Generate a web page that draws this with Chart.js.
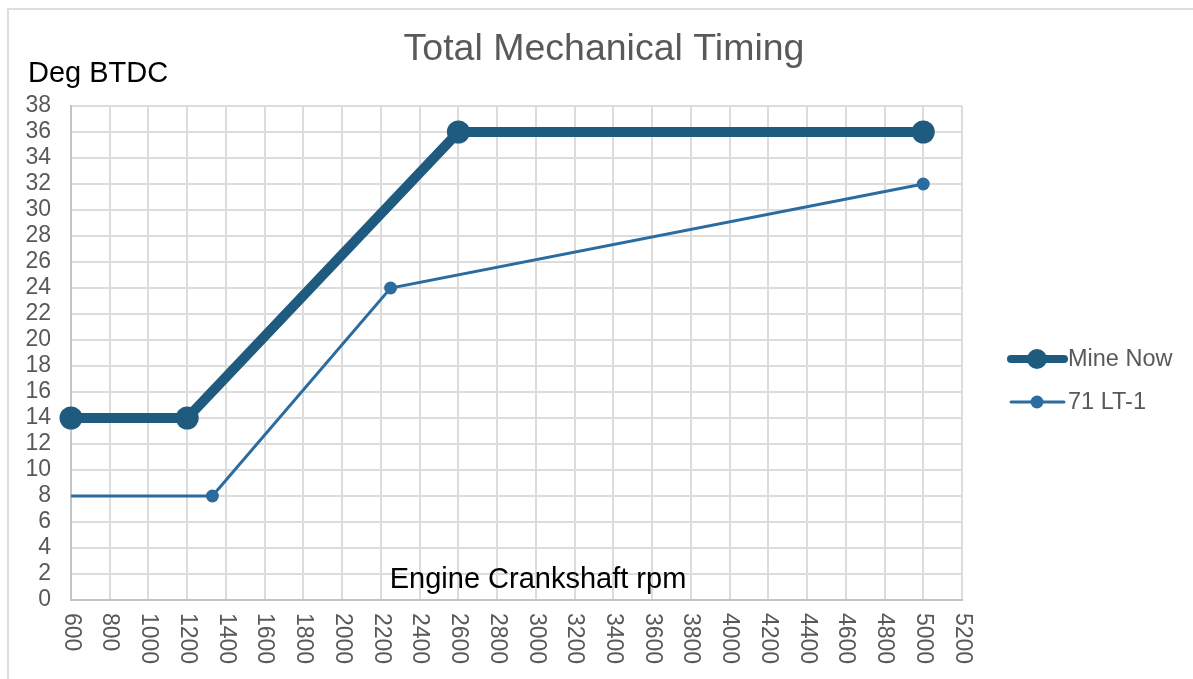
<!DOCTYPE html>
<html>
<head>
<meta charset="utf-8">
<title>Total Mechanical Timing</title>
<script src="https://cdn.jsdelivr.net/npm/chart.js@4.4.1/dist/chart.umd.min.js"></script>
<style>
    html, body {
        margin: 0;
        padding: 0;
        background: #fff;
        overflow: hidden;
    }
    .frame {
        position: absolute;
        left: 7px;
        top: 8px;
        width: 1300px;
        height: 800px;
        border-left: 2px solid #dedede;
        border-top: 2px solid #dedede;
    }
    .wrap {
        position: absolute;
        left: 0;
        top: 0;
        width: 1193px;
        height: 679px;
    }
</style>
</head>
<body>
<div class="frame"></div>
<div class="wrap">
    <canvas id="timingChart" width="1193" height="679"></canvas>
</div>
<script>
const rpmTicks = { min: 600, max: 5200, step: 200 };
const degTicks = { min: 0, max: 38, step: 2 };

const mineNowRpm = [600, 1200, 2600, 5000];
const mineNowDeg = [14, 14, 36, 36];

const lt1Rpm = [500, 1330, 2250, 5000];
const lt1Deg = [8, 8, 24, 32];

const seriesNames = ['Mine Now', '71 LT-1'];

const FONT = '"Liberation Sans", Arial, Helvetica, sans-serif';
const GREY_TEXT = '#595959';


function toPoints(xs, ys) {
    return xs.map((x, i) => ({ x: x, y: ys[i] }));
}

// text, rotated x labels and legend drawn by hand
const decorations = {
    id: 'decorations',
    afterDraw(chart) {
        const ctx = chart.ctx;
        const x = chart.scales.x;
        const area = chart.chartArea;

        ctx.save();

        ctx.fillStyle = GREY_TEXT;
        ctx.font = '37.5px ' + FONT;
        ctx.textAlign = 'center';
        ctx.textBaseline = 'alphabetic';
        ctx.fillText('Total Mechanical Timing', 604, 60);

        ctx.fillStyle = '#000';
        ctx.font = '29px ' + FONT;
        ctx.textAlign = 'left';
        ctx.fillText('Deg BTDC', 28, 82);

        ctx.textAlign = 'center';
        ctx.fillText('Engine Crankshaft rpm', 538, 588);

        // x tick labels, reading top to bottom
        ctx.fillStyle = GREY_TEXT;
        ctx.font = '23px ' + FONT;
        x.ticks.forEach(tick => {
            const px = x.getPixelForValue(tick.value);
            ctx.save();
            ctx.translate(px, area.bottom + 13);
            ctx.rotate(Math.PI / 2);
            ctx.textAlign = 'left';
            ctx.textBaseline = 'middle';
            ctx.fillText(String(tick.value), 0, 0);
            ctx.restore();
        });

        // legend
        const rows = [359, 402];
        chart.data.datasets.forEach((ds, i) => {
            const y = rows[i];
            ctx.strokeStyle = ds.borderColor;
            ctx.lineWidth = i === 0 ? 8 : 3;
            ctx.lineCap = 'round';
            ctx.beginPath();
            ctx.moveTo(1011, y);
            ctx.lineTo(1064, y);
            ctx.stroke();

            ctx.fillStyle = ds.pointBackgroundColor;
            ctx.beginPath();
            ctx.arc(1037, y, i === 0 ? 10 : 6.5, 0, Math.PI * 2);
            ctx.fill();

            ctx.fillStyle = GREY_TEXT;
            ctx.font = '23.5px ' + FONT;
            ctx.textAlign = 'left';
            ctx.textBaseline = 'middle';
            ctx.fillText(ds.label, 1068, y + 1);
        });

        ctx.restore();
    }
};

new Chart(document.getElementById('timingChart'), {
    type: 'line',
    data: {
        datasets: [
            {
                label: seriesNames[0],
                data: toPoints(mineNowRpm, mineNowDeg),
                borderColor: '#1f5a7f',
                backgroundColor: '#1f5a7f',
                pointBackgroundColor: '#1f5a7f',
                pointBorderWidth: 0,
                borderWidth: 10,
                pointRadius: 11.5,
                tension: 0,
                fill: false,
                clip: false,
            },
            {
                label: seriesNames[1],
                data: toPoints(lt1Rpm, lt1Deg),
                borderColor: '#2b6ca0',
                backgroundColor: '#2b6ca0',
                pointBackgroundColor: '#2b6ca0',
                pointBorderWidth: 0,
                borderWidth: 3,
                pointRadius: 6.5,
                tension: 0,
                fill: false,
            }
        ]
    },
    options: {
        responsive: false,
        animation: false,
        events: [],
        layout: {
            padding: { top: 106, right: 231, bottom: 0, left: 0 }
        },
        plugins: {
            legend: { display: false },
            title: { display: false },
            tooltip: { enabled: false }
        },
        scales: {
            x: {
                type: 'linear',
                min: rpmTicks.min,
                max: rpmTicks.max,
                afterFit(scale) {
                    scale.height = 79;
                },
                ticks: {
                    display: false,
                    stepSize: rpmTicks.step,
                },
                grid: {
                    color: '#dcdcdc',
                    lineWidth: 2,
                    drawTicks: false,
                },
                border: {
                    color: '#c4c4c4',
                    width: 2,
                }
            },
            y: {
                min: degTicks.min,
                max: degTicks.max,
                afterFit(scale) {
                    scale.width = 71;
                },
                ticks: {
                    stepSize: degTicks.step,
                    autoSkip: false,
                    padding: 20,
                    color: GREY_TEXT,
                    font: { family: FONT, size: 23 },
                },
                grid: {
                    color: '#dcdcdc',
                    lineWidth: 2,
                    drawTicks: false,
                },
                border: {
                    color: '#c4c4c4',
                    width: 2,
                }
            }
        }
    },
    plugins: [decorations]
});
</script>
</body>
</html>
